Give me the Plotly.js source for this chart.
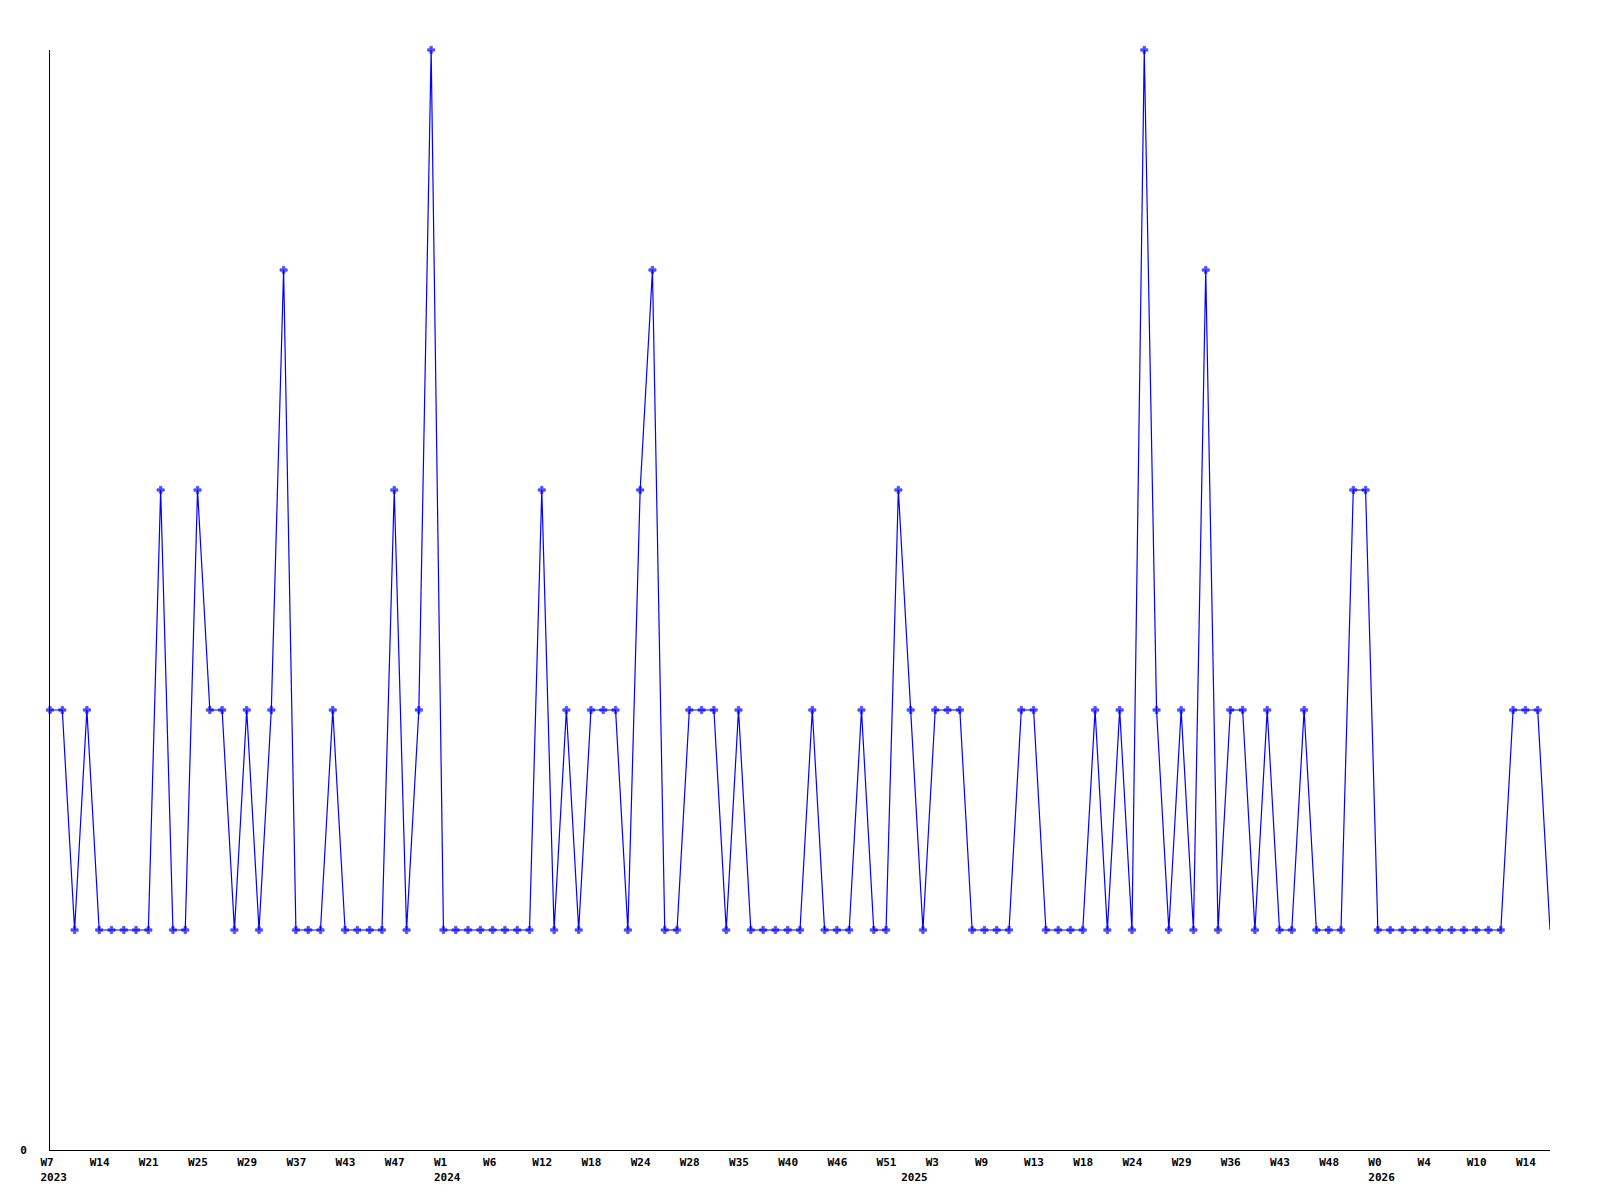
<!DOCTYPE html>
<html>
<head>
<meta charset="utf-8">
<script src="https://cdn.plot.ly/plotly-3.0.1.min.js"></script>
<style>html,body{margin:0;padding:0;background:#fff;}#chart{width:1600px;height:1200px;}</style>
</head>
<body>
<div id="chart"></div>
<script>
// Series values, one per sample
const values = [
  2,2,1,2,1,1,1,1,1,3,
  1,1,3,2,2,1,2,1,2,4,
  1,1,1,2,1,1,1,1,3,1,
  2,5,1,1,1,1,1,1,1,1,
  3,1,2,1,2,2,2,1,3,4,
  1,1,2,2,2,1,2,1,1,1,
  1,1,2,1,1,1,2,1,1,3,
  2,1,2,2,2,1,1,1,1,2,
  2,1,1,1,1,2,1,2,1,5,
  2,1,2,1,4,1,2,2,1,2,
  1,1,2,1,1,1,3,3,1,1,
  1,1,1,1,1,1,1,1,1,2,
  2,2,1
];

// Week tick labels, one every 4 samples
const weekLabels = ["W7","W14","W21","W25","W29","W37","W43","W47","W1","W6","W12",
  "W18","W24","W28","W35","W40","W46","W51","W3","W9","W13",
  "W18","W24","W29","W36","W43","W48","W0","W4","W10","W14"];
// Year labels and the sample index where each year starts
const yearLabels = ["2023","2024","2025","2026"];
const yearStarts = [0, 32, 70, 108];

const xs = values.map((_, i) => i);
const weekStep = 4;

// Build tick arrays
const tickMap = new Map();
weekLabels.forEach((w, k) => tickMap.set(k * weekStep, w));
yearLabels.forEach((y, k) => {
  const p = yearStarts[k];
  if (tickMap.has(p)) tickMap.set(p, tickMap.get(p) + "<br>" + y);
  else tickMap.set(p, "\u00a0<br>" + y);
});
const tickvals = Array.from(tickMap.keys()).sort((a, b) => a - b);
const ticktext = tickvals.map(v => tickMap.get(v));

const markerSizes = values.map((_, i) => (i === values.length - 1 ? 0 : 6));

const font = {family: "DejaVu Sans Mono", size: 11, color: "#000", weight: "bold"};

Plotly.newPlot("chart", [{
  x: xs,
  y: values,
  type: "scatter",
  mode: "lines+markers",
  line: {color: "#0000ff", width: 1.2},
  marker: {symbol: "cross", size: markerSizes, color: "#0000ff", line: {color: "#0000ff", width: 0.8}},
  cliponaxis: false,
  hoverinfo: "skip"
}], {
  width: 1600,
  height: 1200,
  margin: {l: 50, r: 50, t: 50, b: 50, pad: 0},
  paper_bgcolor: "#fff",
  plot_bgcolor: "#fff",
  showlegend: false,
  font: font,
  xaxis: {
    range: [0, values.length - 1],
    showgrid: false,
    zeroline: false,
    showline: true,
    linecolor: "#000",
    linewidth: 1,
    ticks: "",
    tickmode: "array",
    tickvals: tickvals,
    ticktext: ticktext,
    tickangle: 0,
    ticklabelposition: "outside right",
    ticklabelshift: -10,
    ticklabelstandoff: 2,
    tickfont: font
  },
  yaxis: {
    range: [0, 5],
    showgrid: false,
    zeroline: false,
    showline: true,
    linecolor: "#000",
    linewidth: 1,
    ticks: "",
    tickmode: "array",
    tickvals: [0],
    ticktext: ["0"],
    ticklabelstandoff: 20,
    tickfont: font
  }
}, {staticPlot: true});
</script>
</body>
</html>
